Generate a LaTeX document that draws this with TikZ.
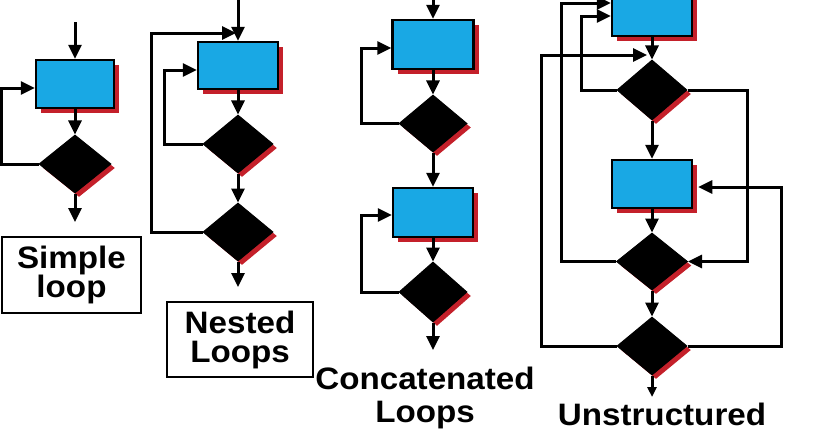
\documentclass[tikz,border=0pt]{standalone}
\usepackage{fontspec}
\setmainfont{Liberation Sans}
\newfontfamily\lblfont{Liberation Sans}[FakeStretch=1.07]
\usetikzlibrary{shapes.geometric,shadows,arrows.meta}
\definecolor{cblue}{RGB}{25,168,228}
\definecolor{cred}{RGB}{196,32,42}
\begin{document}
\begin{tikzpicture}[x=1pt,y=-1pt,
  ln/.style={line width=3pt},
  arr/.style={ln,-{Triangle[length=14pt,width=13pt]}},
  smallarr/.style={ln,-{Triangle[length=10pt,width=9pt]}},
  procbox/.style={draw=black,line width=2.5pt,fill=cblue,minimum width=80pt,minimum height=48pt,inner sep=0pt,
    drop shadow={fill=cred,opacity=1,shadow xshift=5pt,shadow yshift=-5pt}},
  decis/.style={diamond,draw=black,fill=black,line width=1pt,minimum width=70pt,minimum height=58pt,inner sep=0pt,
    drop shadow={fill=cred,opacity=1,shadow xshift=4pt,shadow yshift=-4pt}},
  lbl/.style={font=\lblfont\bfseries\fontsize{31}{28}\selectfont,align=center,inner sep=0pt},
  lblbox/.style={lbl,draw=black,line width=2.6pt}
]
\useasboundingbox (0,0) rectangle (837,431);
\clip (0,0) rectangle (837,431);

% ---------- Simple loop ----------
\coordinate (s0) at (75,22);
\node[procbox,minimum width=78pt] (sb) at (75,84) {};
\node[decis,minimum width=72pt] (sd) at (75,164) {};
\coordinate (se) at (75,222);
\draw[arr] (s0) -- (sb);
\draw[arr] (sb) -- (sd);
\draw[arr] (sd) -- (se);
\draw[arr] (sd.west) -- ++(-37,0) |- ([yshift=-4pt]sb.west);
\node[lblbox,minimum width=139pt,minimum height=76pt] (sl) at (71.5,275) {Simple\\loop};

% ---------- Nested loops ----------
\coordinate (n0) at (238,0);
\coordinate (nj) at (238,33);
\node[procbox,minimum height=47pt] (nb) at (238,65.5) {};
\node[decis] (nd1) at (238,144) {};
\node[decis] (nd2) at (238,232) {};
\coordinate (ne) at (238,287);
\draw[arr] (n0) -- (nb);
\draw[arr] (nb) -- (nd1);
\draw[arr] (nd1) -- (nd2);
\draw[arr] (nd2) -- (ne);
\draw[arr] (nd1.west) -- ++(-38,0) |- ([yshift=-4.5pt]nb.west);
\draw[arr] (nd2.west) -- ++(-51,0) |- ([xshift=-2pt]nj);
\node[lblbox,font=\lblfont\bfseries\fontsize{31}{29}\selectfont,minimum width=146pt,minimum height=75pt] (nl) at (240,339.5) {Nested\\Loops};

% ---------- Concatenated loops ----------
\coordinate (c0) at (433,0);
\node[procbox,minimum width=81pt,minimum height=49pt] (cb1) at (433,44.5) {};
\node[decis,minimum width=68pt,minimum height=57pt] (cd1) at (433,123.5) {};
\node[procbox,minimum height=49pt] (cb2) at (433,212.5) {};
\node[decis,minimum width=68pt,minimum height=60pt] (cd2) at (433,292) {};
\coordinate (ce) at (433,350);
\draw[arr] (c0) -- (cb1);
\draw[arr] (cb1) -- (cd1);
\draw[arr] (cd1) -- (cb2);
\draw[arr] (cb2) -- (cd2);
\draw[arr] (cd2) -- (ce);
\draw[arr] (cd1.west) -- ++(-37,0) |- ([yshift=-3.5pt]cb1.west);
\draw[arr] (cd2.west) -- ++(-37,0) |- ([yshift=-2.5pt]cb2.west);
\node[lbl,font=\lblfont\bfseries\fontsize{31}{33}\selectfont] (cl) at (425,398) {Concatenated\\Loops};

% ---------- Unstructured ----------
\node[procbox] (ub1) at (652,12) {};
\coordinate (uj) at (652,55);
\node[decis,minimum height=60pt] (ud1) at (652,90) {};
\node[procbox] (ub2) at (652,184) {};
\node[decis,minimum width=71pt,minimum height=57pt] (ud2) at (652,261.5) {};
\node[decis] (ud3) at (652,346) {};
\coordinate (ue) at (652,397);
\draw[arr] (ub1) -- (ud1);
\draw[arr] (ud1) -- (ub2);
\draw[arr] (ub2) -- (ud2);
\draw[arr] (ud2) -- (ud3);
\draw[smallarr] (ud3) -- (ue);
\draw[arr] (ud2.west) -- ++(-54.5,0) |- ([yshift=9pt]ub1.west);
\draw[arr] (ud1.west) -- ++(-35,0) |- ([yshift=-4pt]ub1.west);
\draw[arr] (ud3.west) -- ++(-75,0) |- ([xshift=-5pt]uj);
\draw[arr] (ud1.east) -- ++(60,0) |- (ud2.east);
\draw[arr] (ud3.east) -- ++(94,0) |- ([xshift=5pt,yshift=-3pt]ub2.east);
\node[lbl] (ul) at (662,414) {Unstructured};
\end{tikzpicture}
\end{document}
